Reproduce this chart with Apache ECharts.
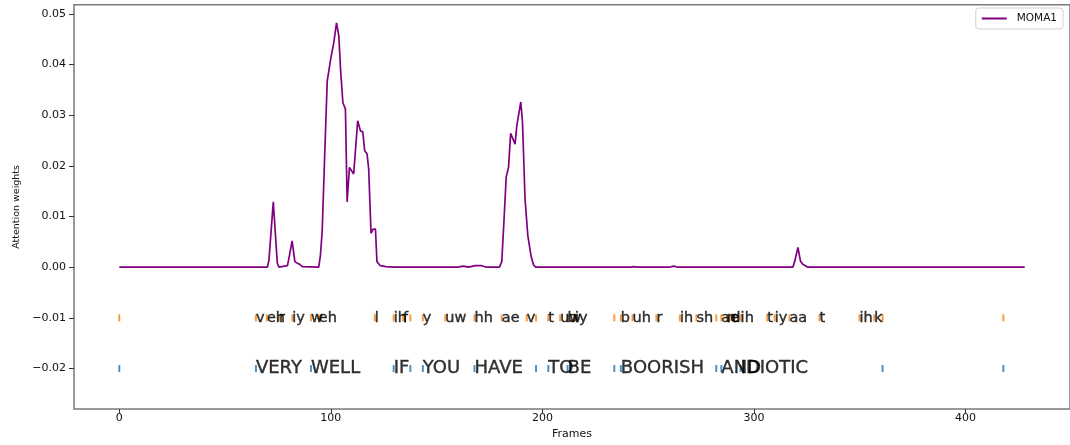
<!DOCTYPE html>
<html><head><meta charset="utf-8">
<script src="https://cdn.jsdelivr.net/npm/echarts@6/dist/echarts.min.js"></script>
<style>html,body{margin:0;padding:0;background:#fff}#c{width:1070px;height:445px}</style>
</head><body><div id="c"></div>
<script>
// ---- data ----
const seriesName = 'MOMA1';
const lineFrames = [0,70,70.75,72.8,74.7,75.5,79.5,80.2,81.7,83.0,84.1,85.2,86.5,94.3,95.1,95.9,97.2,98.3,99.9,101.4,102.7,103.8,104.6,105.7,106.9,107.7,108.8,110.8,112.7,114.0,115.1,116.0,117.1,117.9,119.0,120.0,121.1,121.8,123.4,126,130,160,162.7,165,168.3,171.4,173.6,179.7,180.8,181.9,182.9,184.0,185.0,187.1,187.9,189.8,190.6,191.8,193.1,194.7,195.8,196.8,242,243,245,260,262,264,318.4,319.3,320.8,322,323.1,324,325.5,428];
const lineValues = [0,0,0.0014,0.0129,0.0008,0,0.0003,0.0018,0.0052,0.0011,0.0008,0.0006,0.0001,0,0.0024,0.007,0.0233,0.0367,0.041,0.0443,0.0482,0.0456,0.039,0.0325,0.0312,0.0129,0.0197,0.0184,0.0289,0.0269,0.0267,0.023,0.0224,0.0194,0.0067,0.0075,0.0075,0.0011,0.0003,0.0001,0,0,0.0002,0,0.0003,0.0003,0,0,0.0011,0.0096,0.0178,0.0197,0.0264,0.0243,0.0279,0.0326,0.0286,0.0135,0.0063,0.0021,0.0005,0,0,0.0001,0,0,0.0002,0,0,0.0012,0.0039,0.0012,0.0006,0.0005,0,0];

const phoneRowY = -0.01;
const phoneFrames = [0,64.6,69.8,75.5,81.8,90.6,94.3,120.8,129.7,134.1,137.6,143.5,154.1,167.9,180.8,192.6,197.0,202.8,208.4,211.9,215.4,234.0,237.1,242.6,253.9,265.0,272.8,282.2,284.6,287.3,289.3,293.7,306.3,309.8,316.8,331.0,349.9,356.9,360.8,417.9];
const phoneLabels = ['','v','eh','r','iy','w','eh','l','ih','f','','y','uw','hh','ae','v','','t','uw','b','iy','','b','uh','r','ih','sh','','ae','n','d','ih','t','iy','aa','t','ih','k','',''];

const wordRowY = -0.02;
const wordFrames = [0,64.6,90.6,129.7,137.6,143.5,167.9,197.0,202.8,211.9,234.0,237.1,282.2,284.6,293.7,360.8,417.9];
const wordLabels = ['','VERY','WELL','IF','','YOU','HAVE','','TO','BE','','BOORISH','','AND','IDIOTIC','',''];

const xTicks = [0,100,200,300,400];
const yTicks = [-0.02,-0.01,0,0.01,0.02,0.03,0.04,0.05];

// ---- chart ----
const FONT = 'DejaVu Sans';
const lineData = lineFrames.map((f,i)=>[f, lineValues[i]]);
const phoneData = phoneFrames.map((f,i)=>({value:[f, phoneRowY], name: phoneLabels[i]}));
const wordData = wordFrames.map((f,i)=>({value:[f, wordRowY], name: wordLabels[i]}));

const chart = echarts.init(document.getElementById('c'), null, {renderer:'canvas'});
chart.setOption({
  animation:false,
  textStyle:{fontFamily:FONT},
  grid:{left:74, top:4.7, width:998, height:407.8, show:true, borderColor:'#7a7a7a', borderWidth:1.5},
  legend:{
    data:[seriesName], right:7, top:8, itemWidth:25, itemHeight:2, icon:'rect',
    borderColor:'#d0d0d0', borderWidth:1, borderRadius:3, padding:[5,6],
    itemStyle:{color:'#800080'},
    textStyle:{fontFamily:FONT, fontSize:10.5, color:'#111', padding:[0,0,0,5]}
  },
  xAxis:{
    type:'value', min:-21.4, max:449.4,
    axisLine:{show:false, onZero:false}, splitLine:{show:false},
    axisTick:{show:true, customValues:xTicks, length:4, lineStyle:{color:'#333', width:1}},
    axisLabel:{customValues:xTicks, fontSize:11, color:'#111', margin:4, fontFamily:FONT},
    name:'Frames', nameLocation:'middle', nameGap:16,
    nameTextStyle:{fontSize:11, color:'#111', fontFamily:FONT}
  },
  yAxis:{
    type:'value', min:-0.028, max:0.0518,
    axisLine:{show:false, onZero:false}, splitLine:{show:false},
    axisTick:{show:true, customValues:yTicks, length:5, lineStyle:{color:'#333', width:1}},
    axisLabel:{customValues:yTicks, fontSize:11, color:'#111', margin:8, fontFamily:FONT,
      formatter:v=>(v < -1e-9 ? '\u2212' : '') + Math.abs(v).toFixed(2)},
    name:'Attention weights', nameLocation:'middle', nameGap:50,
    nameTextStyle:{fontSize:9.5, color:'#111', fontFamily:FONT}
  },
  series:[
    {type:'line', name:seriesName, data:lineData, showSymbol:false, symbol:'none',
     lineStyle:{color:'#800080', width:1.7}, itemStyle:{color:'#800080'}, z:3, silent:true},
    {type:'scatter', name:'phones', data:phoneData, symbol:'rect', symbolSize:[2,7],
     itemStyle:{color:'#ff7f0e'}, silent:true,
     label:{show:true, formatter:p=>p.name, position:[1,11], align:'left', verticalAlign:'bottom',
       fontSize:14.5, lineHeight:15, color:'#000', textBorderColor:'#000', textBorderWidth:0.4, fontFamily:FONT}},
    {type:'scatter', name:'words', data:wordData, symbol:'rect', symbolSize:[2,7],
     itemStyle:{color:'#1f77b4'}, silent:true,
     label:{show:true, formatter:p=>p.name, position:[1,12], align:'left', verticalAlign:'bottom',
       fontSize:18, lineHeight:18, color:'#000', textBorderColor:'#000', textBorderWidth:0.4, fontFamily:FONT}}
  ]
});
</script>
</body></html>
